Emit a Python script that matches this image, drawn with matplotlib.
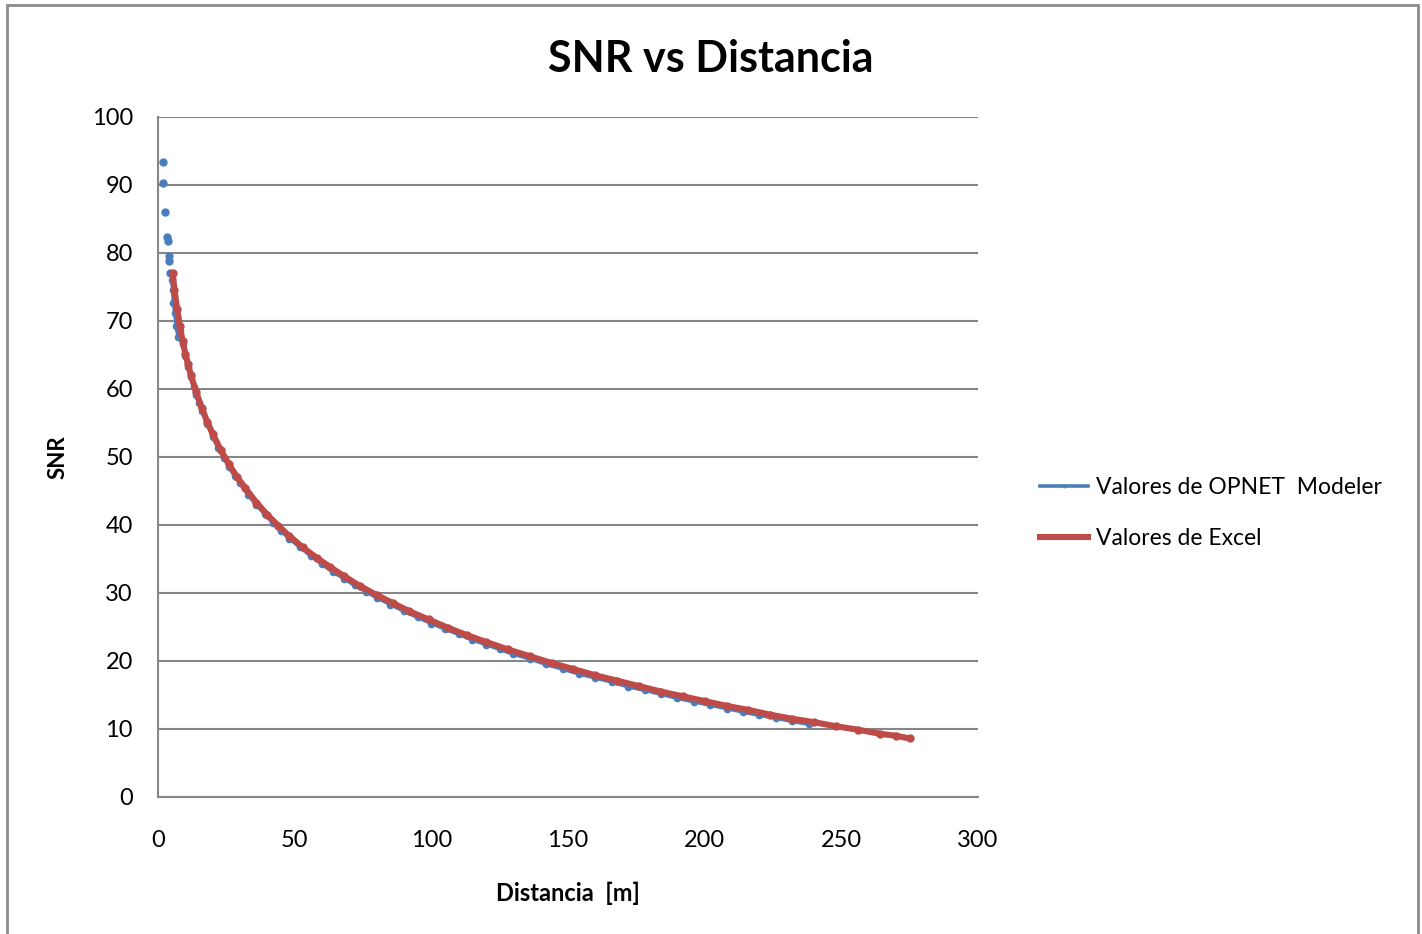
import matplotlib
matplotlib.use("Agg")
import matplotlib.pyplot as plt
from matplotlib.patches import Rectangle

# distancia [m] y SNR simulados en OPNET
opnet_dist = [1.8, 1.8, 2.6, 3.2, 3.6, 3.9, 4.0, 4.4, 5.0, 5.4, 5.6, 6.2, 6.6, 7.4,
              8, 9, 10, 11, 12, 13, 14, 15, 16, 18, 20, 22, 24, 26, 28, 30, 33, 36,
              39, 42, 45, 48, 52, 56, 60, 64, 68, 72, 76, 80, 85, 90, 95, 100, 105,
              110, 115, 120, 125, 130, 136, 142, 148, 154, 160, 166, 172, 178, 184,
              190, 196, 202, 208, 214, 220, 226, 232, 238]
opnet_snr = [93.4, 90.3, 86.0, 82.4, 81.8, 79.6, 78.8, 77.1, 76.0, 74.6, 72.6, 71.1, 69.2, 67.7,
             68.6, 66.6, 64.8, 63.2, 61.7, 60.3, 59.1, 57.9, 56.8, 54.8, 53.0, 51.3, 49.9,
             48.5, 47.2, 46.1, 44.4, 42.9, 41.6, 40.3, 39.1, 38.0, 36.7, 35.4, 34.2, 33.1,
             32.1, 31.1, 30.2, 29.3, 28.3, 27.3, 26.4, 25.5, 24.7, 23.9, 23.1, 22.4, 21.7,
             21.0, 20.3, 19.5, 18.8, 18.1, 17.5, 16.9, 16.2, 15.7, 15.1, 14.5, 14.0, 13.5,
             13.0, 12.5, 12.0, 11.6, 11.1, 10.7]

# distancia [m] y SNR calculados en Excel
excel_dist = [5.4, 6, 7, 8, 9, 10, 11, 12, 14, 16, 18, 20, 23, 26, 29, 32, 36, 40, 44, 48,
              53, 58, 63, 68, 74, 80, 86, 92, 99, 106, 113, 120, 128, 136, 144, 152, 160,
              168, 176, 184, 192, 200, 208, 216, 224, 232, 240, 248, 256, 264, 270, 275]
excel_snr = [77.0, 74.6, 71.8, 69.3, 67.0, 65.2, 63.6, 62.1, 59.5, 57.2, 55.2, 53.4, 51.0,
             48.9, 47.0, 45.4, 43.3, 41.5, 39.9, 38.4, 36.7, 35.2, 33.8, 32.5, 31.0, 29.7,
             28.5, 27.3, 26.1, 24.9, 23.8, 22.8, 21.7, 20.7, 19.7, 18.8, 17.9, 17.1, 16.3,
             15.5, 14.8, 14.1, 13.4, 12.8, 12.1, 11.5, 11.0, 10.4, 9.9, 9.3, 9.0, 8.6]

x_ticks = [0, 50, 100, 150, 200, 250, 300]
y_ticks = [0, 10, 20, 30, 40, 50, 60, 70, 80, 90, 100]

plt.rcParams['font.family'] = ['Lato', 'DejaVu Sans']

blue = "#4a7ebb"
red = "#be4b48"
grid_gray = "#868686"

fig = plt.figure(figsize=[14.22, 9.34], dpi=100)
ax = fig.add_axes([0.1111, 0.1467, 0.5767, 0.7281])

# primeros puntos de OPNET sueltos, sin linea
n_loose = 8
ax.plot(opnet_dist[:n_loose], opnet_snr[:n_loose], linestyle="none", marker="o",
        markersize=5, color=blue, zorder=3)
ax.plot(opnet_dist[n_loose:], opnet_snr[n_loose:], color=blue, linewidth=2.6,
        marker="o", markersize=4.5, zorder=3, label="Valores de OPNET  Modeler")
ax.plot(excel_dist, excel_snr, color=red, linewidth=4.4, marker="o", markersize=5,
        zorder=4, label="Valores de Excel")

ax.set_xlim(0, 300)
ax.set_ylim(0, 100)
ax.set_xticks(x_ticks)
ax.set_yticks(y_ticks)
ax.tick_params(length=0, labelsize=17)
ax.tick_params(axis="x", pad=24)
ax.tick_params(axis="y", pad=18)
ax.yaxis.grid(True, color=grid_gray, linewidth=1.5)
ax.set_axisbelow(True)
for side in ['top', 'right']:
    ax.spines[side].set_visible(False)
for side in ['left', 'bottom']:
    ax.spines[side].set_color(grid_gray)
    ax.spines[side].set_linewidth(1.5)

ax.set_xlabel("Distancia  [m]", fontsize=17, fontweight="bold", labelpad=22)
ax.set_ylabel("SNR", fontsize=16, fontweight="bold", labelpad=17)
fig.text(0.5, 0.937, "SNR vs Distancia", fontsize=31, fontweight="bold",
         ha="center", va="center")

fig.legend(loc="center left", bbox_to_anchor=(0.717, 0.451), frameon=False,
           fontsize=16.5, handlelength=2.1, handletextpad=0.35, labelspacing=1.3,
           markerscale=0.4)

# marco exterior del grafico
fig.patches.append(Rectangle((7 / 1422, -0.05), (1418 - 7) / 1422, 1.05 - 5 / 934,
                             transform=fig.transFigure, fill=False,
                             edgecolor="#8c8c8c", linewidth=2))

fig.savefig("out.png", dpi=100)
